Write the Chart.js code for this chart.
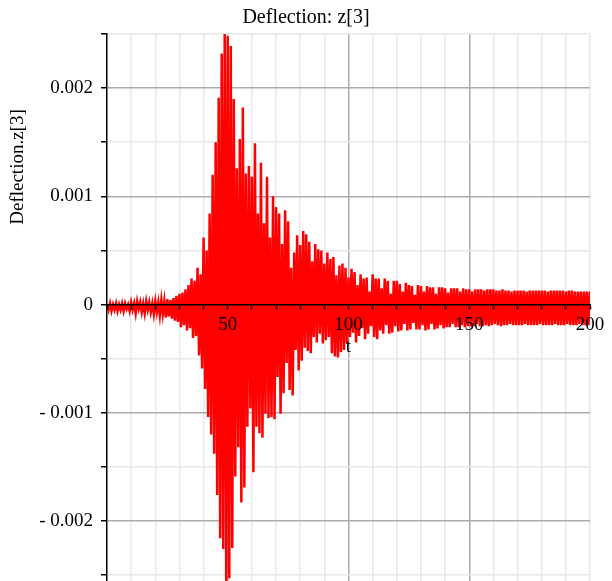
<!DOCTYPE html>
<html>
<head>
<meta charset="utf-8">
<script src="https://cdn.jsdelivr.net/npm/chart.js@4/dist/chart.umd.min.js"></script>
<style>
  html, body { margin: 0; padding: 0; background: #fff; overflow: hidden; }
</style>
</head>
<body>
<canvas id="myChart" width="612" height="581"></canvas>
<script>
// time between two upper peaks (t units), troughs sit half way between
const peakStep = 1.25;

// upper peaks of z[3], in units of 1e-5
const upperPeaks = [
  0, 1, 0, 1, 0, 1, 1, 0, 2, 1,
  3, 2, 1, 3, 2, 1, 3, 2, 4, 3,
  5, 4, 6, 8, 10, 11, 14, 18, 24, 22,
  34, 28, 62, 50, 84, 120, 150, 191, 232, 262,
  248, 239, 190, 126, 153, 182, 121, 128, 118, 149,
  84, 131, 75, 118, 62, 100, 90, 84, 56, 87,
  77, 34, 48, 64, 55, 68, 65, 58, 40, 56,
  51, 50, 38, 48, 42, 44, 27, 36, 38, 34,
  25, 33, 30, 18, 28, 24, 25, 12, 28, 24,
  24, 15, 24, 22, 10, 22, 22, 19, 12, 20,
  18, 17, 9, 18, 17, 12, 17, 16, 16, 10,
  16, 16, 15, 11, 15, 15, 15, 12, 15, 14,
  14, 12, 14, 14, 14, 13, 14, 14, 14, 13,
  13, 14, 13, 13, 12, 13, 13, 13, 13, 12,
  13, 13, 13, 13, 13, 13, 12, 13, 13, 13,
  13, 13, 12, 13, 13, 12, 12, 12, 12, 12, 12
];

// lower peaks (troughs) of z[3], in units of 1e-5
const lowerPeaks = [
  -5, -6, -5, -6, -5, -6, -4, -6, -5, -8,
  -4, -7, -8, -5, -7, -9, -7, -10, -9, -12,
  -11, -13, -15, -16, -21, -19, -24, -22, -31, -29,
  -47, -59, -78, -104, -120, -138, -176, -216, -226, -262,
  -253, -225, -159, -132, -183, -169, -113, -96, -155, -113,
  -119, -123, -101, -105, -104, -106, -67, -101, -82, -54,
  -79, -84, -42, -61, -52, -40, -43, -45, -30, -35,
  -27, -36, -33, -30, -45, -48, -49, -44, -42, -36,
  -30, -26, -35, -29, -22, -32, -27, -20, -30, -32,
  -24, -27, -19, -27, -26, -20, -25, -24, -18, -24,
  -23, -17, -23, -23, -19, -24, -23, -18, -23, -22,
  -19, -22, -21, -21, -18, -21, -21, -19, -21, -20,
  -20, -20, -18, -20, -20, -19, -20, -19, -18, -19,
  -20, -19, -19, -18, -19, -19, -19, -19, -18, -19,
  -19, -19, -19, -18, -19, -19, -19, -19, -18, -19,
  -19, -19, -18, -19, -19, -19, -18, -19, -19, -19, -19
];

// axis ticks
const xTicks = [0, 10, 20, 30, 40, 50, 60, 70, 80, 90, 100, 110, 120, 130, 140, 150, 160, 170, 180, 190, 200];
const xLabelValues = [50, 100, 150, 200];
const xMajorGrid = [50, 100, 150];
const yTicks = [-0.0025, -0.002, -0.0015, -0.001, -0.0005, 0, 0.0005, 0.001, 0.0015, 0.002, 0.0025];
const yLabelValues = [-0.002, -0.001, 0, 0.001, 0.002];
const yLabels = ['- 0.002', '- 0.001', '0', '0.001', '0.002'];

const serif = 'Liberation Serif';
const majorGrid = '#ababab';
const minorGrid = '#e8e8e8';

// zig-zag through the peaks
let points = [];
for (let i = 0; i < upperPeaks.length; i++) {
	points.push({ x: i * peakStep, y: upperPeaks[i] * 1e-5 });
	points.push({ x: i * peakStep + peakStep / 2, y: lowerPeaks[i] * 1e-5 });
}

function near(a, b) {
	return Math.abs(a - b) < 1e-9;
}

// axis titles drawn where Maple puts them
const axisTitles = {
	id: 'axisTitles',
	afterDraw(chart) {
		const ctx = chart.ctx;
		const xs = chart.scales.x;
		const ys = chart.scales.y;
		ctx.save();
		ctx.fillStyle = '#000';
		ctx.font = '19px "' + serif + '"';
		ctx.textAlign = 'center';
		ctx.textBaseline = 'middle';
		ctx.fillText('t', (xs.left + xs.right) / 2, ys.getPixelForValue(0) + 42);
		ctx.translate(18, 167);
		ctx.rotate(-Math.PI / 2);
		ctx.fillText('Deflection.z[3]', 0, 0);
		ctx.restore();
	}
};

const myChart = document.getElementById('myChart');

let lineChart = new Chart(myChart, {
	type: 'line',
	data: {
		datasets: [{
			data: points,
			borderColor: '#ff0000',
			backgroundColor: '#ff0000',
			borderWidth: 2.5,
			pointRadius: 0,
			tension: 0,
			fill: 'origin',
			clip: 0
		}]
	},
	options: {
		responsive: false,
		animation: false,
		layout: { padding: 0 },
		plugins: {
			legend: { display: false },
			tooltip: { enabled: false },
			title: {
				display: true,
				text: 'Deflection: z[3]',
				color: '#000',
				font: { family: serif, size: 20, weight: 'normal' },
				padding: { top: 6, bottom: 4 }
			}
		},
		scales: {
			x: {
				type: 'linear',
				min: 0,
				max: 200,
				position: { y: 0 },
				afterBuildTicks: (scale) => { scale.ticks = xTicks.slice(1).map(v => ({ value: v })); },
				afterFit: (scale) => { scale.paddingLeft = 0; scale.paddingRight = 0; },
				ticks: { display: false },
				grid: {
					drawTicks: false,
					lineWidth: 1.5,
					color: (c) => xMajorGrid.includes(c.tick.value) ? majorGrid : minorGrid
				},
				border: { display: false }
			},
			xAxis: {
				type: 'linear',
				axis: 'x',
				min: 0,
				max: 200,
				position: { y: 0 },
				afterBuildTicks: (scale) => { scale.ticks = xTicks.map(v => ({ value: v })); },
				// room on the right for the "200" label
				afterFit: (scale) => { scale.paddingLeft = 0; scale.paddingRight = 22; },
				ticks: {
					z: 1,
					autoSkip: false,
					maxRotation: 0,
					padding: 5,
					color: '#000',
					font: { family: serif, size: 19 },
					callback: (v) => xLabelValues.includes(v) ? String(v) : ''
				},
				grid: {
					z: 1,
					drawOnChartArea: false,
					tickLength: 4,
					tickWidth: 1.5,
					tickColor: '#000'
				},
				border: { z: 1, color: '#000', width: 1.5 }
			},
			y: {
				type: 'linear',
				min: -0.002555,
				max: 0.0025,
				afterBuildTicks: (scale) => { scale.ticks = yTicks.map(v => ({ value: v })); },
				afterFit: (scale) => {
					scale.width = 107;
					scale.paddingTop = 0;
					scale.paddingBottom = 0;
				},
				ticks: {
					autoSkip: false,
					padding: 8,
					color: '#000',
					font: { family: serif, size: 19 },
					callback: (v) => {
						for (let i = 0; i < yLabelValues.length; i++) {
							if (near(v, yLabelValues[i])) return yLabels[i];
						}
						return '';
					}
				},
				grid: {
					lineWidth: 1.5,
					tickLength: 6,
					tickWidth: 1.5,
					tickColor: '#000',
					color: (c) => (yLabelValues.some(v => near(v, c.tick.value)) && !near(c.tick.value, 0)) ? majorGrid : minorGrid
				},
				border: { color: '#000', width: 1.5 }
			}
		}
	},
	plugins: [axisTitles]
});
</script>
</body>
</html>
